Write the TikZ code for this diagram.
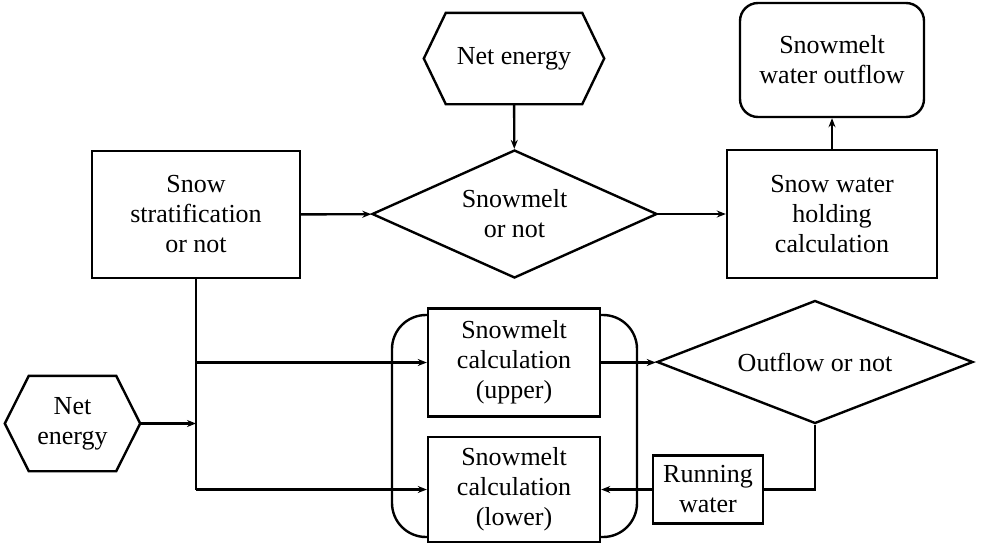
\documentclass[tikz,border=0pt]{standalone}
\usepackage{fontspec}
\setmainfont{Liberation Serif}
\usetikzlibrary{shapes.geometric,arrows.meta}
\begin{document}
\begin{tikzpicture}[x=1pt,y=-1pt,
  line width=2.4pt,
  every node/.style={font=\fontsize{26}{30}\selectfont, align=center, inner sep=0pt},
  box/.style={draw, fill=white, rectangle},
  rbox/.style={draw, fill=white, rectangle, rounded corners=18pt},
  hexa/.style={rectangle},
  dia/.style={draw, fill=white, diamond, shape aspect=2.3},
  arr/.style={-{Stealth[length=9pt,width=7pt]}}]
\useasboundingbox (0,0) rectangle (981,552);
% bracket behind the calculation boxes
\draw[rounded corners=34pt] (392,315) rectangle (637,537);
% nodes
\node[hexa, minimum width=178pt, minimum height=89pt] (ne1) at (514,58.5) {Net energy};
\draw (ne1.west) -- ([xshift=22pt]ne1.north west) -- ([xshift=-22pt]ne1.north east) -- (ne1.east)
  -- ([xshift=-22pt]ne1.south east) -- ([xshift=22pt]ne1.south west) -- cycle;
\node[dia, minimum width=285pt, minimum height=128pt] (sm) at (514.5,214) {Snowmelt\\or not};
\node[box, minimum width=208pt, minimum height=127pt] (strat) at (196,214.5) {Snow\\stratification\\or not};
\node[box, minimum width=210pt, minimum height=128pt] (hold) at (832,214) {Snow water\\holding\\calculation};
\node[rbox, minimum width=184pt, minimum height=114pt] (out) at (832,60) {Snowmelt\\water outflow};
\node[hexa, minimum width=133pt, minimum height=93pt] (ne2) at (72.5,423.5) {Net\\energy};
\draw (ne2.west) -- ([xshift=24pt]ne2.north west) -- ([xshift=-24pt]ne2.north east) -- (ne2.east)
  -- ([xshift=-24pt]ne2.south east) -- ([xshift=24pt]ne2.south west) -- cycle;
\node[box, minimum width=172pt, minimum height=108pt] (up) at (514,362.5) {Snowmelt\\calculation\\(upper)};
\node[box, minimum width=172pt, minimum height=105pt] (low) at (514,489.5) {Snowmelt\\calculation\\(lower)};
\node[dia, minimum width=316pt, minimum height=123pt] (of) at (815,362) {Outflow or not};
\node[box, minimum width=110pt, minimum height=68pt] (run) at (708,489.5) {Running\\water};
% connectors
\draw[arr] (ne1) -- (sm);
\draw[arr] (strat) -- (sm);
\draw[arr] (sm) -- (hold);
\draw[arr] (hold) -- (out);
\draw (strat.south) -- (strat.south |- low.west);
\draw[arr] (strat.south |- up.west) -- (up.west);
\draw[arr] (strat.south |- low.west) -- (low.west);
\draw[arr] (ne2.east) -- (ne2.east -| strat.south);
\draw[arr] (up.east) -- (up.east -| of.west);
\draw (of.south) |- (run.east);
\draw[arr] (run) -- (low);
\end{tikzpicture}
\end{document}
